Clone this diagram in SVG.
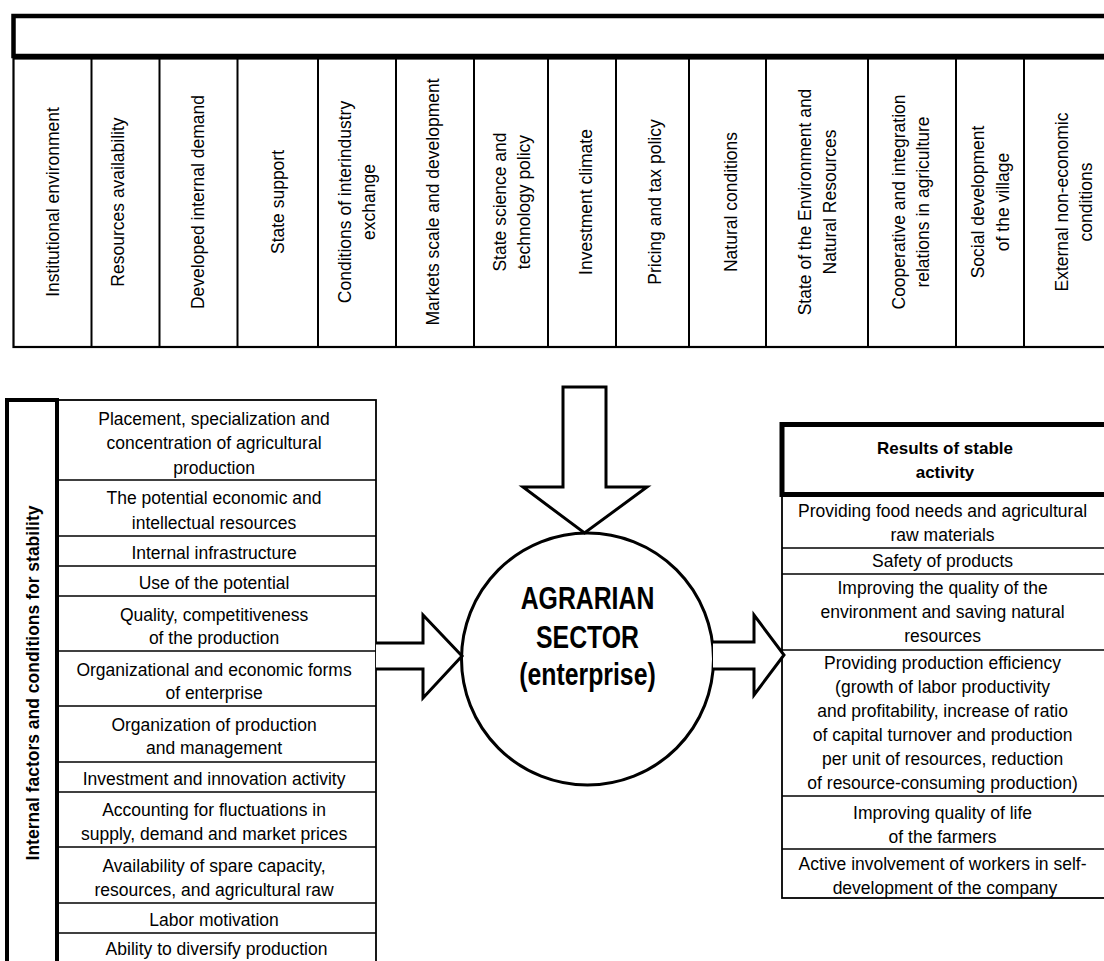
<svg xmlns="http://www.w3.org/2000/svg" width="1104" height="961" viewBox="0 0 1104 961">
<style>
.t{font-family:"Liberation Sans",Arial,sans-serif;font-size:17.5px;text-anchor:middle;fill:#000}
.b{font-family:"Liberation Sans",Arial,sans-serif;font-size:17.5px;font-weight:bold;text-anchor:middle;fill:#000}
.c{font-family:"Liberation Sans",Arial,sans-serif;font-size:31px;font-weight:bold;text-anchor:middle;fill:#000}
.thin{fill:none;stroke:#000;stroke-width:1.8}
.thick{fill:none;stroke:#000;stroke-width:4.5}
.ln{stroke:#000;stroke-width:2}
.arr{fill:#fff;stroke:#000;stroke-width:3;stroke-linejoin:miter}
</style>
<rect width="1104" height="961" fill="#fff"/>

<g id="external-factors">
  <rect class="thick" x="13.5" y="16" width="1200" height="40"/>
  <rect class="thin" x="13.5" y="58.5" width="1200" height="288.5" style="stroke-width:2.2"/>
  <g class="ln">
    <line x1="91.5" y1="58" x2="91.5" y2="347"/>
    <line x1="159.5" y1="58" x2="159.5" y2="347"/>
    <line x1="237.5" y1="58" x2="237.5" y2="347"/>
    <line x1="318" y1="58" x2="318" y2="347"/>
    <line x1="396" y1="58" x2="396" y2="347"/>
    <line x1="474" y1="58" x2="474" y2="347"/>
    <line x1="548" y1="58" x2="548" y2="347"/>
    <line x1="616" y1="58" x2="616" y2="347"/>
    <line x1="689" y1="58" x2="689" y2="347"/>
    <line x1="766" y1="58" x2="766" y2="347"/>
    <line x1="868" y1="58" x2="868" y2="347"/>
    <line x1="956" y1="58" x2="956" y2="347"/>
    <line x1="1024" y1="58" x2="1024" y2="347"/>
  </g>
  <text class="t" transform="translate(52.5,202) rotate(-90)" y="6">Institutional environment</text>
  <text class="t" transform="translate(124,202) rotate(-90)" y="0">Resources availability</text>
  <text class="t" transform="translate(198.5,202) rotate(-90)" y="5">Developed internal demand</text>
  <text class="t" transform="translate(278,202) rotate(-90)" y="6">State support</text>
  <text class="t" transform="translate(357,202) rotate(-90)"><tspan x="0" y="-6">Conditions of interindustry</tspan><tspan x="0" y="18">exchange</tspan></text>
  <text class="t" transform="translate(435,202) rotate(-90)" y="4">Markets scale and development</text>
  <text class="t" transform="translate(511,202) rotate(-90)"><tspan x="0" y="-5">State science and</tspan><tspan x="0" y="19">technology policy</tspan></text>
  <text class="t" transform="translate(582,202) rotate(-90)" y="10">Investment climate</text>
  <text class="t" transform="translate(652.5,202) rotate(-90)" y="8">Pricing and tax policy</text>
  <text class="t" transform="translate(727.5,202) rotate(-90)" y="9">Natural conditions</text>
  <text class="t" transform="translate(817,202) rotate(-90)"><tspan x="0" y="-6">State of the Environment and</tspan><tspan x="0" y="19">Natural Resources</tspan></text>
  <text class="t" transform="translate(912,202) rotate(-90)"><tspan x="0" y="-7">Cooperative and integration</tspan><tspan x="0" y="17">relations in agriculture</tspan></text>
  <text class="t" transform="translate(989.5,202) rotate(-90)"><tspan x="0" y="-6">Social development</tspan><tspan x="0" y="19">of the village</tspan></text>
  <text class="t" transform="translate(1074,202) rotate(-90)"><tspan x="0" y="-6">External non-economic</tspan><tspan x="0" y="18">conditions</tspan></text>
</g>

<g id="internal-factors">
  <rect class="thin" x="57" y="400" width="319" height="600"/>
  <rect class="thick" x="7" y="400" width="50" height="600" style="stroke-width:4"/>
  <g class="ln" style="stroke-width:1.6">
    <line x1="57" y1="480" x2="376" y2="480"/>
    <line x1="57" y1="536" x2="376" y2="536"/>
    <line x1="57" y1="566" x2="376" y2="566"/>
    <line x1="57" y1="596" x2="376" y2="596"/>
    <line x1="57" y1="651" x2="376" y2="651"/>
    <line x1="57" y1="706" x2="376" y2="706"/>
    <line x1="57" y1="762" x2="376" y2="762"/>
    <line x1="57" y1="792" x2="376" y2="792"/>
    <line x1="57" y1="847" x2="376" y2="847"/>
    <line x1="57" y1="903" x2="376" y2="903"/>
    <line x1="57" y1="933" x2="376" y2="933"/>
  </g>
  <text class="b" transform="translate(39,683) rotate(-90)">Internal factors and conditions for stability</text>
  <text class="t">
    <tspan x="216.5" y="425">Placement, specialization and</tspan>
    <tspan x="216.5" y="449">concentration of agricultural</tspan>
    <tspan x="216.5" y="474">production</tspan>
    <tspan x="216.5" y="504">The potential economic and</tspan>
    <tspan x="216.5" y="529">intellectual resources</tspan>
    <tspan x="216.5" y="559">Internal infrastructure</tspan>
    <tspan x="216.5" y="589">Use of the potential</tspan>
    <tspan x="216.5" y="621">Quality, competitiveness</tspan>
    <tspan x="216.5" y="644">of the production</tspan>
    <tspan x="216.5" y="676">Organizational and economic forms</tspan>
    <tspan x="216.5" y="699">of enterprise</tspan>
    <tspan x="216.5" y="731">Organization of production</tspan>
    <tspan x="216.5" y="754">and management</tspan>
    <tspan x="216.5" y="785">Investment and innovation activity</tspan>
    <tspan x="216.5" y="816">Accounting for fluctuations in</tspan>
    <tspan x="216.5" y="840">supply, demand and market prices</tspan>
    <tspan x="216.5" y="872">Availability of spare capacity,</tspan>
    <tspan x="216.5" y="896">resources, and agricultural raw</tspan>
    <tspan x="216.5" y="926">Labor motivation</tspan>
    <tspan x="216.5" y="955">Ability to diversify production</tspan>
  </text>
</g>

<g id="agrarian-sector">
  <circle cx="587.5" cy="659" r="126" fill="#fff" stroke="#000" stroke-width="3"/>
  <g transform="translate(587.5,0) scale(0.8,1)">
    <text class="c" x="0" y="609">AGRARIAN</text>
    <text class="c" x="0" y="648">SECTOR</text>
    <text class="c" x="0" y="685">(enterprise)</text>
  </g>
</g>

<g id="results">
  <rect class="thin" x="782" y="494.5" width="400" height="403.5"/>
  <rect class="thick" x="782" y="424.5" width="400" height="70" style="stroke-width:5"/>
  <g class="ln" style="stroke-width:1.6">
    <line x1="782" y1="548" x2="1104" y2="548"/>
    <line x1="782" y1="574" x2="1104" y2="574"/>
    <line x1="782" y1="650" x2="1104" y2="650"/>
    <line x1="782" y1="796" x2="1104" y2="796"/>
    <line x1="782" y1="849" x2="1104" y2="849"/>
  </g>
  <text class="b" style="font-size:17px"><tspan x="945" y="454">Results of stable</tspan><tspan x="945" y="478">activity</tspan></text>
  <text class="t">
    <tspan x="945" y="517">Providing food needs and agricultural</tspan>
    <tspan x="945" y="541">raw materials</tspan>
    <tspan x="945" y="567">Safety of products</tspan>
    <tspan x="945" y="594">Improving the quality of the</tspan>
    <tspan x="945" y="618">environment and saving natural</tspan>
    <tspan x="945" y="642">resources</tspan>
    <tspan x="945" y="669">Providing production efficiency</tspan>
    <tspan x="945" y="693">(growth of labor productivity</tspan>
    <tspan x="945" y="717">and profitability, increase of ratio</tspan>
    <tspan x="945" y="741">of capital turnover and production</tspan>
    <tspan x="945" y="765">per unit of resources, reduction</tspan>
    <tspan x="945" y="789">of resource-consuming production)</tspan>
    <tspan x="945" y="819">Improving quality of life</tspan>
    <tspan x="945" y="843">of the farmers</tspan>
    <tspan x="945" y="870">Active involvement of workers in self-</tspan>
    <tspan x="945" y="894">development of the company</tspan>
  </text>
</g>

<g id="connectors">
  <polygon class="arr" points="563,387 606,387 606,487 647,487 584.5,533 523,487 563,487"/>
  <polyline class="arr" points="376,643 423,643 423,615 462,656 423,698 423,669 376,669"/>
  <polyline class="arr" points="713,642 754,642 754,615 784,655 754,695 754,669 713,669"/>
</g>
</svg>
